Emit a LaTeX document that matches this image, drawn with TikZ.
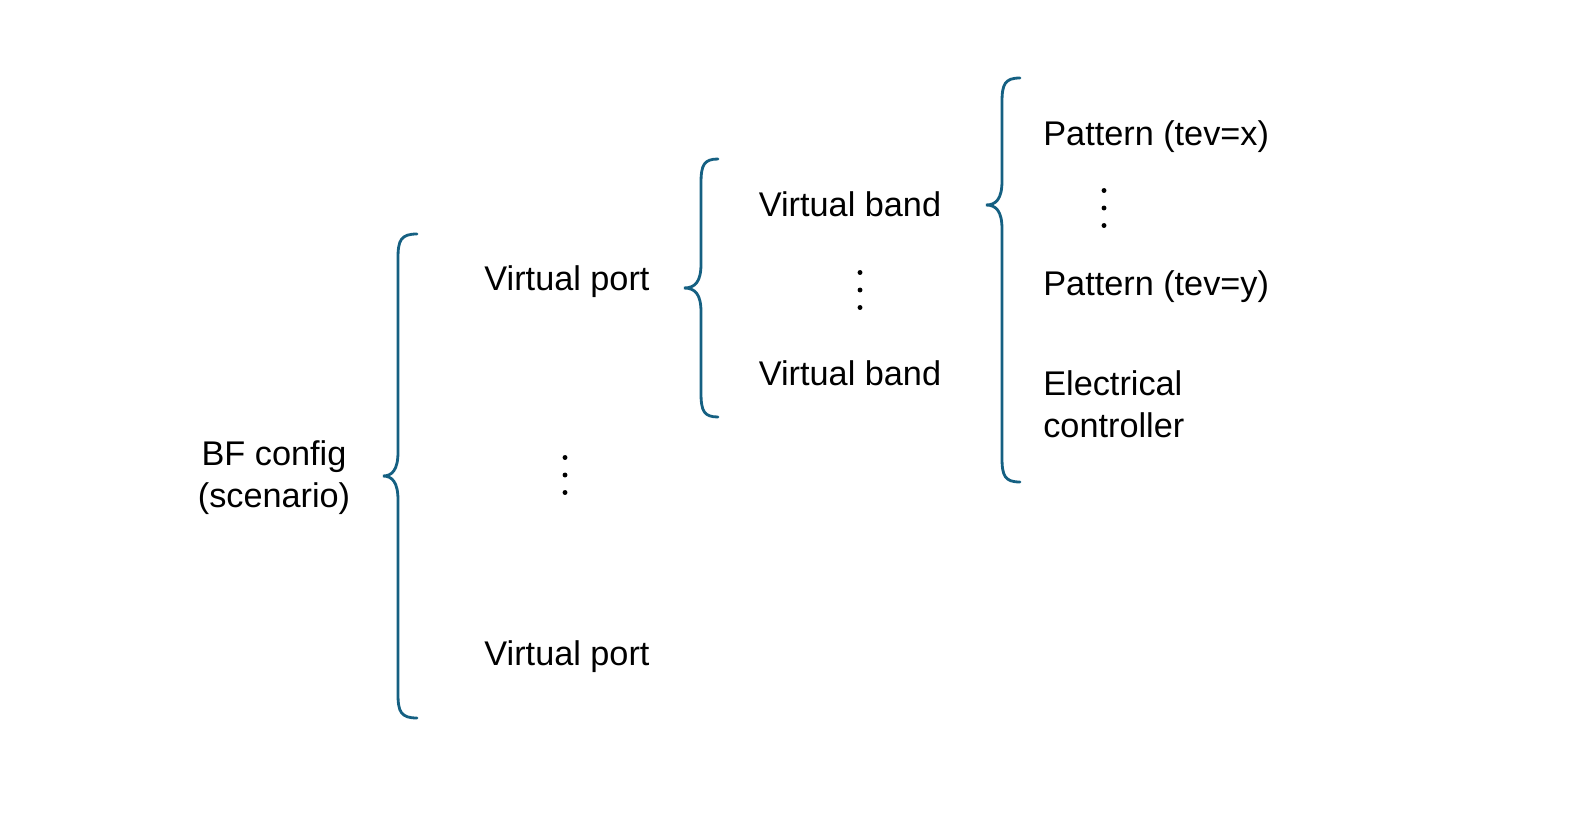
\documentclass[tikz,border=0pt]{standalone}
\usepackage{fontspec}
\setmainfont{Liberation Sans}
\definecolor{bracecol}{RGB}{21,96,130}

\begin{document}
\begin{tikzpicture}[x=0.02cm,y=-0.02cm,
  lbl/.style={anchor=base,inner sep=0pt,font=\fontsize{19.5}{23.8}\selectfont},
  brace/.style={bracecol,line width=1.6pt,line cap=round}]
\useasboundingbox (0,0) rectangle (1590,818);

% braces
\foreach \xe/\xl/\xt/\ya/\ym/\yb in {417/398/383/234/476/718, 718/701/684/159/288/417, 1020/1002/986/78/205/482}
  \draw [brace] (\xe,\ya) .. controls (\xl+3,\ya) and (\xl,\ya+6) .. (\xl,\ya+24) -- (\xl,\ym-24) .. controls (\xl,\ym-6) and (\xl-6,\ym) .. (\xt,\ym) .. controls (\xl-6,\ym) and (\xl,\ym+6) .. (\xl,\ym+24) -- (\xl,\yb-24) .. controls (\xl,\yb-6) and (\xl+3,\yb) .. (\xe,\yb);

\node [lbl,align=center] (cfg) at (274,507) {BF config\\(scenario)};
\node [lbl] (port1) at (567,290) {Virtual port};
\node [lbl] (port2) at (567,665) {Virtual port};
\node [lbl] (band1) at (850,216) {Virtual band};
\node [lbl] (band2) at (850,385) {Virtual band};
\node [lbl,anchor=base west] (patx) at (1043,145) {Pattern (tev=x)};
\node [lbl,anchor=base west] (paty) at (1043,295) {Pattern (tev=y)};
\node [lbl,anchor=base west,align=left] (ctrl) at (1043,437) {Electrical\\controller};

% dots
\foreach \x/\y in {565/475, 860/290, 1104/208}
  \foreach \d in {-17.5,0,17.5}
    \fill (\x,\y+\d) circle (1.4pt);

\end{tikzpicture}
\end{document}
